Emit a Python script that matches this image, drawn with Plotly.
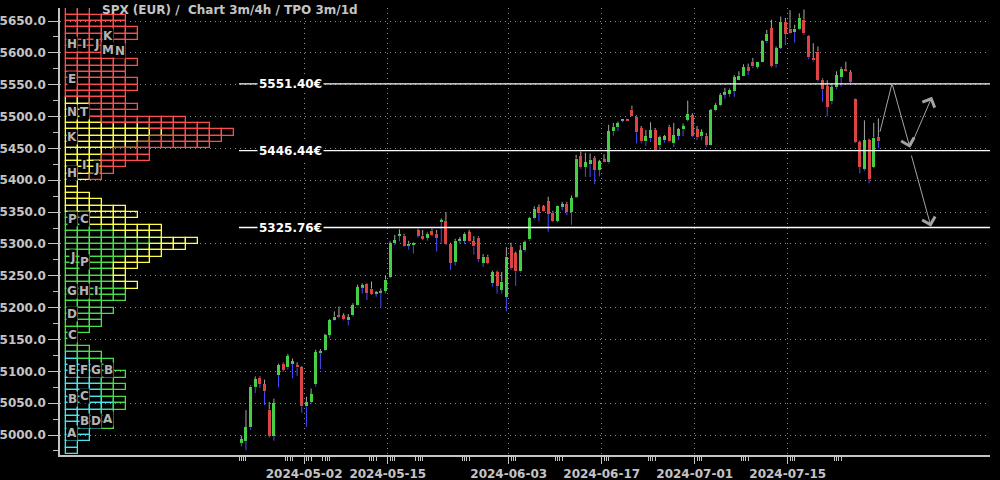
import pandas as pd
import plotly.graph_objects as go

# ---------------- data ----------------
trading_days = pd.bdate_range("2024-04-22", "2024-07-26", freq="C", holidays=["2024-05-01"])
BARS_PER_DAY = 2

opens = [
    4988, 4991, 5012, 5076, 5090, 5080, 5040, 4999, 5094, 5112,
    5106, 5112, 5110, 5106, 5045, 5052, 5080, 5129, 5134, 5157,
    5180, 5188, 5188, 5180, 5188, 5204, 5232, 5237, 5230, 5222,
    5224, 5226, 5248, 5301, 5313, 5313, 5298, 5298, 5322, 5313,
    5310, 5321, 5316, 5335, 5336, 5300, 5272, 5305, 5305, 5318,
    5304, 5310, 5270, 5280, 5238, 5256, 5228, 5217, 5295, 5285,
    5257, 5290, 5307, 5340, 5358, 5359, 5367, 5349, 5336, 5359,
    5363, 5350, 5374, 5438, 5421, 5425, 5435, 5416, 5433, 5428,
    5477, 5484, 5494, 5495, 5511, 5500, 5482, 5461, 5466, 5479,
    5455, 5463, 5484, 5459, 5470, 5480, 5495, 5502, 5480, 5470,
    5470, 5455, 5510, 5518, 5535, 5535, 5540, 5558, 5564, 5578,
    5586, 5578, 5586, 5618, 5639, 5582, 5608, 5649, 5638, 5633,
    5638, 5652, 5627, 5592, 5602, 5558, 5548, 5524, 5546, 5562,
    5575, 5570, 5527, 5460, 5418, 5463, 5421, 5468,
]
highs = [
    4999, 5039, 5078, 5092, 5092, 5087, 5052, 5057, 5112, 5114,
    5127, 5120, 5114, 5108, 5060, 5073, 5134, 5135, 5159, 5182,
    5194, 5202, 5191, 5190, 5207, 5236, 5238, 5238, 5241, 5226,
    5230, 5250, 5304, 5314, 5323, 5316, 5305, 5303, 5324, 5322,
    5318, 5324, 5322, 5340, 5350, 5302, 5308, 5311, 5318, 5322,
    5312, 5312, 5284, 5283, 5258, 5258, 5256, 5295, 5302, 5288,
    5298, 5305, 5342, 5359, 5362, 5361, 5374, 5352, 5360, 5366,
    5366, 5376, 5440, 5445, 5443, 5442, 5438, 5432, 5441, 5487,
    5490, 5492, 5496, 5496, 5517, 5502, 5485, 5479, 5491, 5482,
    5470, 5471, 5487, 5490, 5482, 5489, 5525, 5505, 5485, 5480,
    5474, 5512, 5521, 5537, 5545, 5544, 5565, 5571, 5582, 5583,
    5592, 5586, 5620, 5636, 5652, 5610, 5657, 5655, 5667, 5644,
    5662, 5668, 5628, 5615, 5610, 5560, 5557, 5552, 5571, 5578,
    5586, 5573, 5528, 5462, 5494, 5465, 5490, 5497,
]
lows = [
    4982, 4976, 5008, 5066, 5074, 5047, 4996, 4991, 5075, 5099,
    5103, 5089, 5093, 5035, 5013, 5049, 5076, 5103, 5132, 5152,
    5179, 5183, 5180, 5172, 5186, 5203, 5222, 5212, 5220, 5217,
    5201, 5222, 5246, 5298, 5304, 5296, 5291, 5285, 5310, 5306,
    5305, 5312, 5288, 5300, 5298, 5259, 5266, 5300, 5300, 5302,
    5283, 5272, 5264, 5268, 5233, 5222, 5222, 5194, 5259, 5234,
    5255, 5287, 5305, 5338, 5335, 5351, 5319, 5334, 5334, 5353,
    5345, 5330, 5372, 5418, 5405, 5405, 5394, 5406, 5428, 5426,
    5470, 5477, 5491, 5493, 5500, 5458, 5458, 5454, 5460, 5446,
    5447, 5459, 5459, 5452, 5463, 5469, 5492, 5468, 5463, 5463,
    5452, 5454, 5508, 5516, 5528, 5531, 5531, 5557, 5563, 5565,
    5576, 5575, 5585, 5615, 5577, 5577, 5606, 5612, 5630, 5616,
    5636, 5628, 5590, 5586, 5555, 5523, 5500, 5519, 5543, 5547,
    5570, 5552, 5458, 5411, 5415, 5395, 5419, 5450,
]
closes = [
    4993, 5012, 5076, 5088, 5080, 5069, 4999, 5050, 5110, 5102,
    5124, 5116, 5106, 5045, 5052, 5064, 5130, 5132, 5157, 5180,
    5186, 5186, 5182, 5185, 5204, 5232, 5235, 5223, 5222, 5224,
    5226, 5244, 5301, 5306, 5314, 5297, 5300, 5302, 5313, 5308,
    5316, 5314, 5310, 5337, 5300, 5270, 5305, 5306, 5316, 5304,
    5296, 5276, 5280, 5270, 5256, 5234, 5241, 5280, 5262, 5257,
    5290, 5303, 5340, 5355, 5349, 5352, 5347, 5336, 5359, 5362,
    5350, 5372, 5434, 5421, 5428, 5432, 5416, 5430, 5429, 5477,
    5484, 5490, 5495, 5494, 5501, 5475, 5461, 5469, 5479, 5447,
    5468, 5469, 5461, 5471, 5480, 5485, 5504, 5470, 5468, 5475,
    5455, 5510, 5518, 5534, 5538, 5542, 5562, 5564, 5578, 5572,
    5579, 5586, 5618, 5630, 5580, 5607, 5649, 5630, 5631, 5638,
    5655, 5631, 5593, 5588, 5558, 5543, 5515, 5546, 5565, 5575,
    5571, 5555, 5460, 5421, 5463, 5402, 5467, 5461,
]

tick_dates = ["2024-05-02", "2024-05-15", "2024-06-03", "2024-06-17", "2024-07-01", "2024-07-15"]
y_ticks = [5000, 5050, 5100, 5150, 5200, 5250, 5300, 5350, 5400, 5450, 5500, 5550, 5600, 5650]

levels = [5551.40, 5446.44, 5325.76]

# TPO profile: 10-point price bins (lower edge), TPO counts per month
profile_bins = list(range(5660, 4960, -10))
tpo_apr = [0] * 54 + [1, 3, 3, 3, 3, 3, 3, 4, 4, 3, 3, 3, 2, 2, 1, 1]
tpo_may = [0] * 32 + [2, 2, 4, 5, 8, 7, 6, 5, 4, 4, 4, 5, 5, 5, 3, 4, 3, 3, 2, 1,
                      1, 2, 2, 1, 1, 2, 1, 2, 1, 1, 1, 1, 1, 1, 0, 0, 0, 0]
tpo_jun = [0] * 14 + [2, 2, 2, 3, 7, 9, 7, 6, 4, 3, 3, 3, 2, 1, 1, 2, 3, 5, 4, 3,
                      4, 3, 3, 3, 2, 2, 2, 1, 1, 1] + [0] * 26
tpo_jul = [2, 5, 5, 6, 6, 5, 5, 5, 6, 5, 5, 6, 6, 5, 3, 4, 3, 7, 5, 5,
           6, 6, 3, 4, 2, 1, 1] + [0] * 43

tpo_letters = ["H", "I", "J", "K", "M", "N", "E",
               "N", "T", "K", "H", "I", "J",
               "P", "C", "J", "P", "G", "H", "I", "D", "C",
               "E", "F", "G", "B", "B", "C", "B", "D", "A", "A"]
tpo_letter_cols = [1, 2, 3, 4, 4, 5, 1,
                   1, 2, 1, 1, 2, 3,
                   1, 2, 1, 2, 1, 2, 3, 1, 1,
                   1, 2, 3, 4, 1, 2, 2, 3, 4, 1]
tpo_letter_prices = [5614, 5614, 5614, 5626, 5604, 5603, 5559,
                     5507, 5507, 5468, 5411, 5424, 5419,
                     5339, 5339, 5280, 5272, 5226, 5226, 5226, 5190, 5157,
                     5102, 5102, 5102, 5102, 5057, 5061, 5022, 5022, 5025, 5003]

# hand-drawn projection arrows (day position, price)
path1_days = [68.92, 70.22, 72.15, 74.52]
path1_prices = [5476, 5552, 5451, 5531]
path2_days = [72.26, 74.41]
path2_prices = [5441, 5327]

title_text = "SPX (EUR) /  Chart 3m/4h / TPO 3m/1d"

# ---------------- styling / geometry ----------------
BG = "#000000"
FG = "#c4c4c4"
GRID = "#8c8c8c"
UP = "#46cf46"
DOWN = "#dc4444"
WICK_UP = "#a8a8a8"
WICK_DN = "#4a4aff"
MONTH_COLORS = ["#46e6ee", "#48e048", "#ffff46", "#ff4c4c"]
FONT = "DejaVu Sans"

FIG_W, FIG_H = 1000, 480

# geometry in screen pixels
PX_PER_DAY = 9.3
FIRST_BAR_PX = 239.0
PLOT_L, PLOT_R, PLOT_T, PLOT_B = 60, 990, 8, 455
Y0_PX, Y0_VAL = 435, 5000
y_px_per_pt = (435 - 21) / 650.0

x_range = [(PLOT_L - FIRST_BAR_PX) / PX_PER_DAY, (PLOT_R - FIRST_BAR_PX) / PX_PER_DAY]
y_range = [Y0_VAL - (PLOT_B - Y0_PX) / y_px_per_pt, Y0_VAL + (Y0_PX - PLOT_T) / y_px_per_pt]
COL_PX = 12.0
x2_range = [-(66 - PLOT_L) / COL_PX, (PLOT_R - 66) / COL_PX]

# ---------------- build ----------------
n = len(closes)
tpos = [(k + 0.5) / BARS_PER_DAY for k in range(n)]

fig = go.Figure()

# wicks
ux, uy, lx, ly = [], [], [], []
for k in range(n):
    top = max(opens[k], closes[k])
    bot = min(opens[k], closes[k])
    ux += [tpos[k], tpos[k], None]
    uy += [top, highs[k], None]
    lx += [tpos[k], tpos[k], None]
    ly += [lows[k], bot, None]
fig.add_trace(go.Scatter(x=ux, y=uy, mode="lines", line=dict(color=WICK_UP, width=1),
                         hoverinfo="skip", showlegend=False))
fig.add_trace(go.Scatter(x=lx, y=ly, mode="lines", line=dict(color=WICK_DN, width=1),
                         hoverinfo="skip", showlegend=False))

# bodies
for is_up, col in ((True, UP), (False, DOWN)):
    idx = [k for k in range(n) if (closes[k] >= opens[k]) == is_up]
    fig.add_trace(go.Bar(
        x=[tpos[k] for k in idx],
        y=[max(abs(closes[k] - opens[k]), 1.6) for k in idx],
        base=[min(opens[k], closes[k]) for k in idx],
        width=0.32, marker=dict(color=col, line=dict(width=0)),
        hoverinfo="skip", showlegend=False))

# TPO profile boxes
offsets = [0] * len(profile_bins)
for counts, col in zip([tpo_apr, tpo_may, tpo_jun, tpo_jul], MONTH_COLORS):
    ys, bases = [], []
    for i, c in enumerate(counts):
        for j in range(c):
            ys.append(profile_bins[i] + 5)
            bases.append(offsets[i] + j)
        offsets[i] += c
    fig.add_trace(go.Bar(
        orientation="h", x=[1] * len(ys), y=ys, base=bases, width=10,
        xaxis="x2", yaxis="y",
        marker=dict(color="rgba(0,0,0,0)", line=dict(color=col, width=1.3)),
        hoverinfo="skip", showlegend=False))

annotations = []
for letter, col, price in zip(tpo_letters, tpo_letter_cols, tpo_letter_prices):
    annotations.append(dict(
        x=col - 0.5, y=price, xref="x2", yref="y", text=letter, showarrow=False,
        font=dict(family=FONT, size=12, color="#b4b4b4", weight="bold"),
        bgcolor=BG, borderpad=0))

# level lines + labels
shapes = []
for lv in levels:
    shapes.append(dict(type="line", xref="x", yref="y", x0=0, x1=x_range[1], y0=lv, y1=lv,
                       line=dict(color="#ffffff", width=1.3), layer="above"))
    annotations.append(dict(
        x=(290 - FIRST_BAR_PX) / PX_PER_DAY, y=lv, xref="x", yref="y",
        text=f"{lv:.2f}€", showarrow=False,
        font=dict(family=FONT, size=12, color="#ffffff", weight="bold"),
        bgcolor=BG, borderpad=1))

# drawn arrows
ARROW = "#a4a4a4"
shapes.append(dict(type="line", xref="x", yref="y",
                   x0=path1_days[0], y0=path1_prices[0], x1=path1_days[1], y1=path1_prices[1],
                   line=dict(color=ARROW, width=1)))
for (x0, y0, x1, y1) in [(path1_days[1], path1_prices[1], path1_days[2], path1_prices[2]),
                         (path1_days[2], path1_prices[2], path1_days[3], path1_prices[3]),
                         (path2_days[0], path2_prices[0], path2_days[1], path2_prices[1])]:
    annotations.append(dict(x=x1, y=y1, ax=x0, ay=y0, xref="x", yref="y", axref="x", ayref="y",
                            text="", showarrow=True, arrowhead=4, arrowsize=2.6,
                            arrowwidth=1, arrowcolor=ARROW, standoff=0))

# title
annotations.append(dict(
    x=(100 - PLOT_L) / (PLOT_R - PLOT_L), y=1 - (10 - PLOT_T) / (PLOT_B - PLOT_T),
    xref="paper", yref="paper", xanchor="left", yanchor="middle", text=title_text,
    showarrow=False, font=dict(family=FONT, size=12, color=FG, weight="bold")))

# x ticks
day_pos = {d.strftime("%Y-%m-%d"): i for i, d in enumerate(trading_days)}
tick_vals = [day_pos[d] for d in tick_dates]
minor_vals = []
for i, d in enumerate(trading_days):
    ds = d.strftime("%Y-%m-%d")
    if d.weekday() == 0 or ds in tick_dates:
        minor_vals += [i + q / 4 for q in range(1, 4)] + ([i] if ds not in tick_dates else [])

tickfont = dict(family=FONT, size=12, color=FG, weight="bold")
fig.update_layout(
    width=FIG_W, height=FIG_H,
    margin=dict(l=PLOT_L, r=FIG_W - PLOT_R, t=PLOT_T, b=FIG_H - PLOT_B, pad=0, autoexpand=False),
    paper_bgcolor=BG, plot_bgcolor=BG,
    barmode="overlay", bargap=0,
    showlegend=False,
    xaxis=dict(
        range=x_range, tickmode="array", tickvals=tick_vals, ticktext=tick_dates,
        ticks="outside", ticklen=7, tickwidth=1, tickcolor=FG, tickfont=tickfont,
        showline=True, linecolor=FG, linewidth=1.5, automargin=False,
        showgrid=True, gridcolor=GRID, gridwidth=1, griddash="1px,4px", zeroline=False,
        minor=dict(tickmode="array", tickvals=minor_vals, ticklen=4, tickcolor=FG,
                   tickwidth=1, showgrid=False),
    ),
    xaxis2=dict(range=x2_range, overlaying="x", anchor="y", visible=False),
    yaxis=dict(
        range=y_range, tickmode="array", tickvals=y_ticks,
        ticktext=[f"{v:.1f}" for v in y_ticks],
        ticks="outside", ticklen=10, tickwidth=1, tickcolor=FG, tickfont=tickfont,
        showline=True, linecolor=FG, linewidth=1.5, automargin=False,
        showgrid=True, gridcolor=GRID, gridwidth=1, griddash="1px,4px", zeroline=False,
        minor=dict(tick0=5000, dtick=25, ticklen=5, tickcolor=FG, tickwidth=1, showgrid=False),
    ),
    shapes=shapes,
    annotations=annotations,
)

# remove the default page margin so the 1000x480 figure fills the window exactly
fig.write_html("out.html",
               config={"displayModeBar": False},
               post_script="document.body.style.margin='0';document.body.style.background='#000';")
